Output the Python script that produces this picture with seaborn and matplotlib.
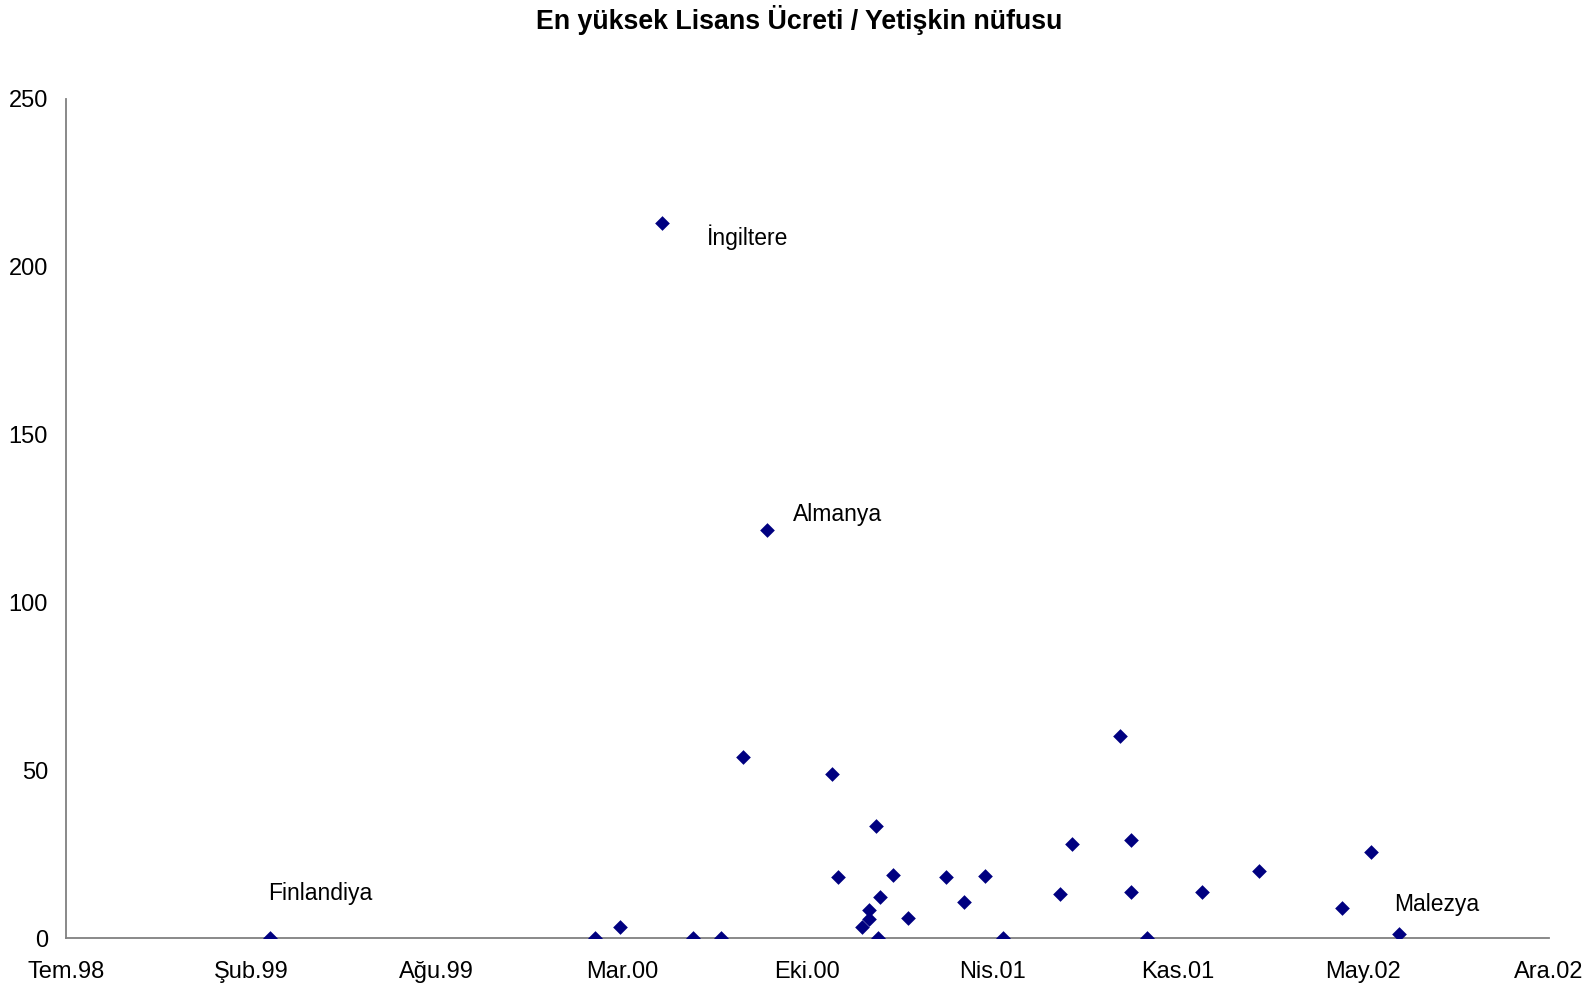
import matplotlib
matplotlib.use("Agg")
import matplotlib.pyplot as plt
import seaborn as sns
import pandas as pd

title = "En yüksek Lisans Ücreti / Yetişkin nüfusu"

dates = ["1999-03-01", "2000-02-15", "2000-03-13", "2000-04-27", "2000-05-31",
         "2000-06-30", "2000-07-23", "2000-08-18", "2000-10-27", "2000-11-03",
         "2000-11-29", "2000-12-06", "2000-12-06", "2000-12-14", "2000-12-16",
         "2000-12-18", "2001-01-01", "2001-01-18", "2001-02-27", "2001-03-19",
         "2001-04-11", "2001-04-30", "2001-07-01", "2001-07-13", "2001-09-03",
         "2001-09-15", "2001-09-15", "2001-10-02", "2001-12-01", "2002-01-31",
         "2002-05-01", "2002-06-01", "2002-07-01"]
values = [0.0, 0.0, 3.4, 212.8, 0.0,
          0.0, 54.0, 121.5, 48.8, 18.1,
          3.3, 5.7, 8.3, 33.3, 0.0,
          12.2, 18.9, 5.9, 18.1, 10.7,
          18.4, 0.0, 13.0, 27.9, 60.2,
          29.2, 13.7, 0.0, 13.7, 19.9,
          8.8, 25.7, 1.1]

labels = {0: "Finlandiya", 3: "İngiltere", 7: "Almanya", 32: "Malezya"}
label_offsets = {0: (-1, 32), 3: (32, -10), 7: (19, 11), 32: (-3, 21.5)}

tick_dates = ["1998-07-24", "1999-02-09", "1999-08-28", "2000-03-15", "2000-10-01",
              "2001-04-19", "2001-11-05", "2002-05-24", "2002-12-10"]
tick_labels = ["Tem.98", "Şub.99", "Ağu.99", "Mar.00", "Eki.00",
               "Nis.01", "Kas.01", "May.02", "Ara.02"]
y_ticks = [0, 50, 100, 150, 200, 250]

sns.set_style("white")
plt.rcParams["font.family"] = ["Liberation Sans", "DejaVu Sans"]
plt.rcParams["text.color"] = "black"

df = pd.DataFrame({"tarih": pd.to_datetime(dates), "deger": values})
tdates = pd.to_datetime(tick_dates)

fig = plt.figure(figsize=(15.91, 9.88), dpi=100)
ax = fig.add_axes([0.0415, 0.0506, 0.932, 0.8497])

sns.scatterplot(data=df, x="tarih", y="deger", ax=ax, marker="D", s=56,
                color="#000080", edgecolor="#000080", linewidth=0, zorder=3)

for i, txt in labels.items():
    dx, dy = label_offsets[i]
    ax.annotate(txt, (df["tarih"][i], df["deger"][i]), xytext=(dx, dy),
                textcoords="offset points", fontsize=16.5, color="black",
                ha="left", va="center")

ax.set_xlim(tdates[0], tdates[-1])
ax.set_ylim(0, 250)
ax.set_xticks(tdates)
ax.set_xticklabels(tick_labels)
ax.set_yticks(y_ticks)
ax.set_xlabel("")
ax.set_ylabel("")

for s in ["top", "right"]:
    ax.spines[s].set_visible(False)
for s in ["left", "bottom"]:
    ax.spines[s].set_color("#808080")
    ax.spines[s].set_linewidth(1.3)

ax.tick_params(axis="both", which="major", direction="out", length=5,
               width=1.3, color="#808080", labelsize=17, labelcolor="black")
ax.tick_params(axis="x", pad=11.5)
ax.tick_params(axis="y", pad=8)
ax.grid(False)

fig.suptitle(title, fontsize=19.3, fontweight="bold", y=0.98, va="center",
             x=0.5025, color="black")

fig.savefig("out.png", dpi=100, facecolor="white")
